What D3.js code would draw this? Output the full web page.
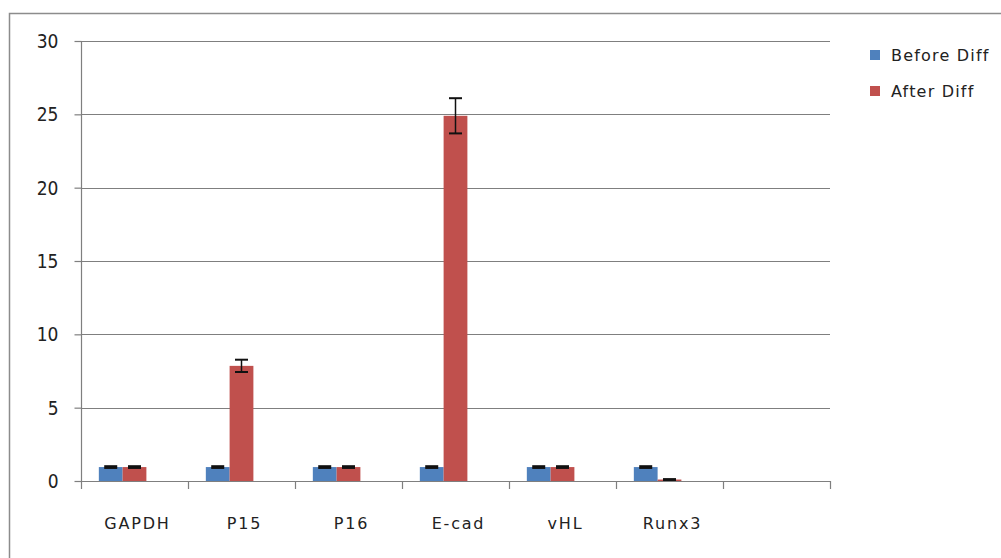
<!DOCTYPE html>
<html><head><meta charset="utf-8">
<script src="https://cdn.jsdelivr.net/npm/d3@7"></script>
<style>body{margin:0;background:#fff}svg{display:block}</style>
</head><body>
<script>
const categories = ["GAPDH","P15","P16","E-cad","vHL","Runx3",""];
const seriesNames = ["Before Diff","After Diff"];
const beforeVals = [0.95,0.95,0.95,0.95,0.95,0.95,null];
const beforeErr  = [0.06,0.06,0.06,0.06,0.06,0.06,null];
const afterVals  = [0.95,7.85,0.95,24.9,0.95,0.1,null];
const afterErr   = [0.06,0.42,0.06,1.2,0.06,0.03,null];
const yTicks = [0,5,10,15,20,25,30];
const colors = ["#4f81bd","#c0504d"];

const W=1001,H=558;
const svg=d3.select("body").append("svg").attr("width",W).attr("height",H);
const x=d3.scaleBand().domain(categories).range([81,830]);
const inner=d3.scaleBand().domain([0,1,2]).range([0,x.bandwidth()]).paddingInner(0).paddingOuter(0.75);
const y=d3.scaleLinear().domain([0,30]).range([481,41]);

// outer border (left & top)
svg.append("path").attr("d",`M9.5,${H} V13.5 H${W}`).attr("fill","none").attr("stroke","#8c8c8c").attr("stroke-width",1.5);

// gridlines
svg.append("g").selectAll("line").data(yTicks.filter(d=>d>0)).join("line")
  .attr("x1",81).attr("x2",830).attr("y1",d=>Math.round(y(d))+0.5).attr("y2",d=>Math.round(y(d))+0.5)
  .attr("stroke","#7f7f7f").attr("stroke-width",1.2);

// y axis
const ya=svg.append("g").attr("transform","translate(81.5,0)")
  .call(d3.axisLeft(y).tickValues(yTicks).tickSize(7).tickPadding(16).tickFormat(d3.format("d")));
ya.select(".domain").attr("d",`M0,${y(30)}V489`).attr("stroke","#7f7f7f").attr("stroke-width",1.2);
ya.selectAll(".tick line").attr("stroke","#7f7f7f").attr("stroke-width",1.2);
ya.selectAll(".tick text").attr("font-family","'DejaVu Sans Condensed','DejaVu Sans',sans-serif").attr("font-size",19).attr("fill","#222").attr("dy","0.35em");

// x axis line
svg.append("line").attr("x1",81).attr("x2",830).attr("y1",481.5).attr("y2",481.5).attr("stroke","#7f7f7f").attr("stroke-width",1.2);
svg.append("g").selectAll("line").data(categories.slice(1).map(c=>x(c)).concat([830])).join("line")
  .attr("x1",d=>Math.round(d)+0.5).attr("x2",d=>Math.round(d)+0.5).attr("y1",481).attr("y2",489)
  .attr("stroke","#7f7f7f").attr("stroke-width",1.2);
svg.append("g").selectAll("text").data(categories).join("text")
  .attr("x",d=>x(d)+x.bandwidth()/2+3).attr("y",529)
  .attr("text-anchor","middle").attr("font-family","'DejaVu Sans',sans-serif").attr("font-size",16)
  .attr("letter-spacing","1.8px").attr("fill","#222").text(d=>d);

// bars
const series=[{vals:beforeVals,err:beforeErr},{vals:afterVals,err:afterErr}];
series.forEach((s,si)=>{
  const data=categories.map((c,i)=>({c,v:s.vals[i],e:s.err[i]})).filter(d=>d.v!=null);
  const g=svg.append("g");
  g.selectAll("rect").data(data).join("rect")
    .attr("x",d=>x(d.c)+inner(si)).attr("width",inner.bandwidth())
    .attr("y",d=>y(d.v)).attr("height",d=>y(0)-y(d.v)).attr("fill",colors[si]);
  const eb=g.selectAll("g.eb").data(data).join("g");
  const cx=d=>x(d.c)+inner(si)+inner.bandwidth()/2;
  eb.append("line").attr("x1",cx).attr("x2",cx).attr("y1",d=>y(d.v+d.e)).attr("y2",d=>y(d.v-d.e)).attr("stroke","#111").attr("stroke-width",1.5);
  eb.append("line").attr("x1",d=>cx(d)-6.5).attr("x2",d=>cx(d)+6.5).attr("y1",d=>y(d.v+d.e)).attr("y2",d=>y(d.v+d.e)).attr("stroke","#111").attr("stroke-width",2);
  eb.append("line").attr("x1",d=>cx(d)-6.5).attr("x2",d=>cx(d)+6.5).attr("y1",d=>y(d.v-d.e)).attr("y2",d=>y(d.v-d.e)).attr("stroke","#111").attr("stroke-width",2);
});

// legend
const lg=svg.append("g").selectAll("g").data(seriesNames).join("g")
  .attr("transform",(d,i)=>`translate(870,${55+i*36})`);
lg.append("rect").attr("x",0).attr("y",-5).attr("width",10).attr("height",10).attr("fill",(d,i)=>colors[i]);
lg.append("text").attr("x",21).attr("y",0).attr("dy","0.35em")
  .attr("font-family","'DejaVu Sans',sans-serif").attr("font-size",16).attr("letter-spacing","1.2px").attr("fill","#222").text(d=>d);
</script>
</body></html>
